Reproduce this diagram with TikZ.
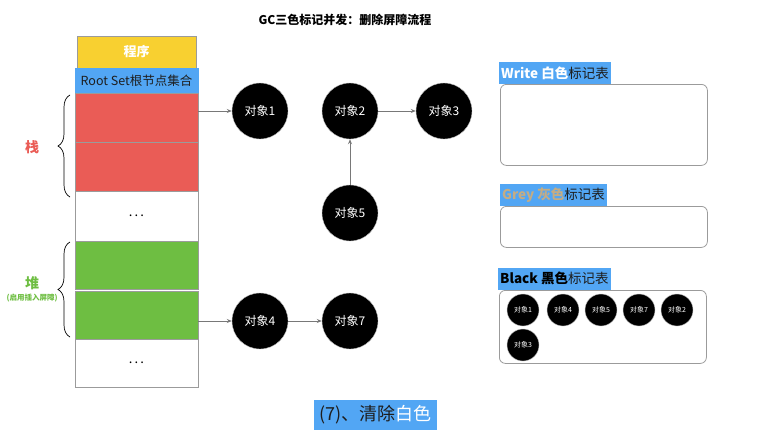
\documentclass[tikz,border=0pt]{standalone}
\usepackage{fontspec}
\newfontfamily\cjk{Noto Sans CJK SC}
\usepackage{tikz}
\usetikzlibrary{arrows.meta,positioning,decorations.pathreplacing}
\definecolor{progyellow}{RGB}{248,208,48}
\definecolor{rsblue}    {RGB}{82,166,244}
\definecolor{stackred}  {RGB}{234,92,86}
\definecolor{heapgreen} {RGB}{110,190,66}
\definecolor{framegray} {RGB}{155,155,155}
\definecolor{arrowgray} {RGB}{120,120,120}
\definecolor{greytag}   {RGB}{196,172,132}
\definecolor{textdark}  {RGB}{30,30,30}
\tikzset{
  cell/.style={draw=framegray, line width=0.8pt, minimum width=123pt,
               minimum height=#1, inner sep=0pt, outer sep=0pt,
               font=\cjk\fontsize{13}{15}\selectfont},
  cell/.default=49pt,
  obj/.style ={circle, fill=black, draw=gray!50, minimum size=56pt,
               inner sep=0pt, text=white, font=\cjk\fontsize{12}{14}\selectfont},
  sobj/.style={obj, minimum size=32pt, font=\cjk\fontsize{7}{8}\selectfont},
  tbl/.style ={draw=framegray, rounded corners=6pt, line width=0.8pt,
               anchor=north west, minimum width=207pt, inner sep=0pt},
  hdr/.style ={fill=rsblue, inner sep=2pt, anchor=south west,
               minimum height=22pt, text=textdark,
               font=\cjk\fontsize{13.5}{15}\selectfont},
  arr/.style ={-{Stealth[length=5pt,width=4pt]}, draw=arrowgray, line width=0.7pt},
  brc/.style ={decorate, decoration={brace, amplitude=12pt}, line width=0.7pt},
}

\begin{document}
\begin{tikzpicture}[x=1pt, y=-1pt]
  \useasboundingbox (0,0) rectangle (772,439);

  \node[font=\cjk\bfseries\fontsize{12}{14}\selectfont] (title) at (345,20)
        {GC三色标记并发：删除屏障流程};

  % left column: program, root set, stack, heap
  \node[cell=32pt, minimum width=119pt, fill=progyellow, text=white,
        font=\cjk\bfseries\fontsize{13}{15}\selectfont] (prog)
        at (136.5,52) {程序};
  \node[cell=25pt, fill=rsblue, draw=rsblue, text=textdark,
        font=\cjk\fontsize{12.5}{14}\selectfont, below=0pt of prog] (root)
        {Root Set根节点集合};
  \node[cell, fill=stackred, below=0pt of root] (red1) {};
  \node[cell, fill=stackred, below=0pt of red1] (red2) {};
  \node[cell=50pt, fill=white, below=0pt of red2] (dots1) {.\,.\,.};
  \node[cell=48pt, fill=heapgreen, below=0pt of dots1] (grn1) {};
  \node[cell=48pt, fill=heapgreen, below=2pt of grn1] (grn2) {};
  \node[cell=48pt, fill=white, below=0pt of grn2] (dots2) {.\,.\,.};

  \draw[brc] (70,197) -- (70,95);
  \draw[brc] (70,337) -- (70,242);
  \node[text=stackred, font=\cjk\bfseries\fontsize{14}{16}\selectfont] (zhan)
        at (32,147) {栈};
  \node[text=heapgreen, font=\cjk\bfseries\fontsize{14}{16}\selectfont] (dui)
        at (32,283) {堆};
  \node[text=heapgreen, font=\cjk\bfseries\fontsize{7.5}{9}\selectfont] (duinote)
        at (32,298) {(启用插入屏障)};

  % objects
  \node[obj] (o1) at (260,111) {对象1};
  \node[obj] (o2) at (350,111) {对象2};
  \node[obj] (o3) at (444,111) {对象3};
  \node[obj] (o5) at (350,213) {对象5};
  \node[obj] (o4) at (260,321) {对象4};
  \node[obj] (o7) at (350,321) {对象7};

  \draw[arr] (red1.east |- o1) -- (o1);
  \draw[arr] (o2) -- (o3);
  \draw[arr] (o5) -- (o2);
  \draw[arr] (grn2.east |- o4) -- (o4);
  \draw[arr] (o4) -- (o7);

  % mark tables
  \node[tbl, minimum height=81pt] (wtbl) at (500,84) {};
  \node[hdr] (whdr) at ([xshift=-1pt]wtbl.north west)
        {\textcolor{white}{\bfseries Write 白色}标记表};
  \node[tbl, minimum height=41pt] (gtbl) at (500,206) {};
  \node[hdr] (ghdr) at (gtbl.north west)
        {\textcolor{greytag}{\bfseries Grey 灰色}标记表};
  \node[tbl, minimum height=73pt] (btbl) at (499,290) {};
  \node[hdr] (bhdr) at ([xshift=-1pt]btbl.north west)
        {\textcolor{black}{\bfseries Black 黑色}标记表};

  \node[sobj] (b1) at (523,310) {对象1};
  \node[sobj] (b4) at (563,310) {对象4};
  \node[sobj] (b5) at (601,310) {对象5};
  \node[sobj] (b7) at (639,310) {对象7};
  \node[sobj] (b2) at (677,310) {对象2};
  \node[sobj] (b3) at (523,345) {对象3};

  \node[fill=rsblue, minimum width=123pt, minimum height=30pt, inner sep=0pt,
        text=textdark, font=\cjk\fontsize{18}{20}\selectfont] (step7)
        at (375.5,415) {(7)、清除\textcolor{white}{白色}};
\end{tikzpicture}
\end{document}
